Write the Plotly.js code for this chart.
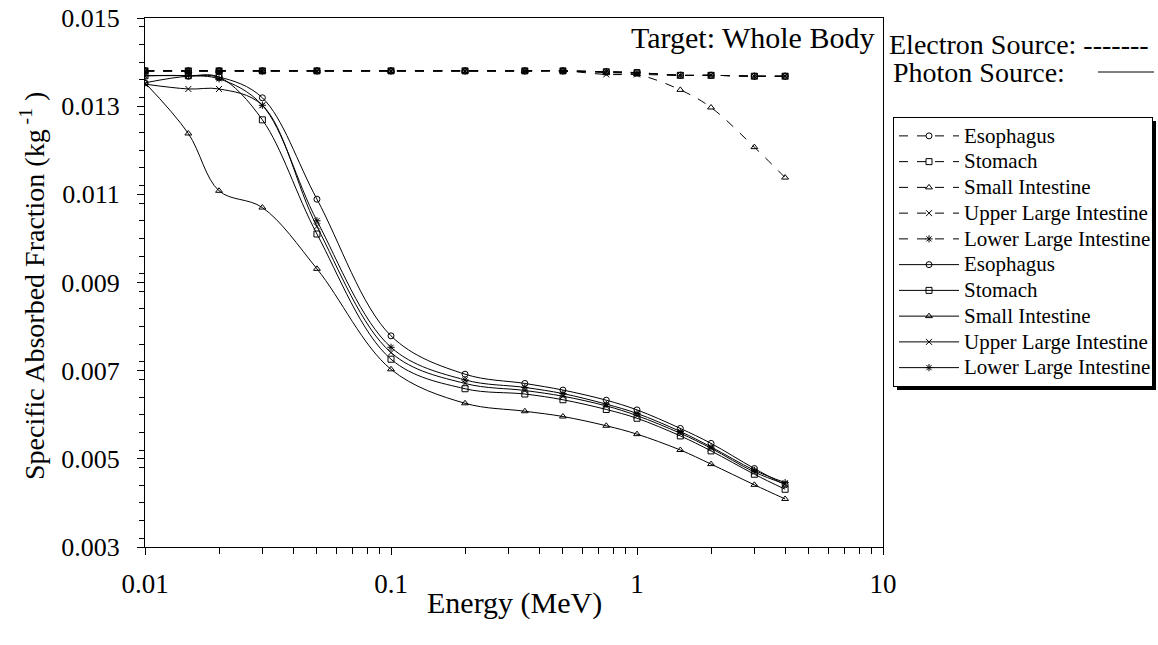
<!DOCTYPE html>
<html><head><meta charset="utf-8">
<script src="https://cdn.plot.ly/plotly-3.0.1.min.js"></script>
<style>html,body{margin:0;padding:0;background:#fff}#chart{width:1158px;height:645px}</style>
</head><body><div id="chart"></div>
<script>
const energy = [0.01,0.015,0.02,0.03,0.05,0.1,0.2,0.35,0.5,0.75,1,1.5,2,3,4];
const organs = ['Esophagus','Stomach','Small Intestine','Upper Large Intestine','Lower Large Intestine'];
// Electron source
const eEso = [0.0138,0.0138,0.0138,0.0138,0.0138,0.0138,0.0138,0.0138,0.0138,0.01378,0.01376,0.0137,0.0137,0.01368,0.01368];
const eSto = [0.0138,0.0138,0.0138,0.0138,0.0138,0.0138,0.0138,0.0138,0.0138,0.01378,0.01376,0.0137,0.0137,0.01368,0.01368];
const eSI  = [0.0138,0.0138,0.0138,0.0138,0.0138,0.0138,0.0138,0.0138,0.0138,0.01376,0.01372,0.01337,0.01297,0.01207,0.01138];
const eULI = [0.0138,0.0138,0.0138,0.0138,0.0138,0.0138,0.0138,0.0138,0.0138,0.01372,0.01372,0.0137,0.0137,0.01368,0.01368];
const eLLI = [0.0138,0.0138,0.0138,0.0138,0.0138,0.0138,0.0138,0.0138,0.0138,0.01378,0.01376,0.0137,0.0137,0.01368,0.01368];
// Photon source
const pEso = [0.01353,0.01368,0.01366,0.01319,0.01089,0.00779,0.00692,0.00671,0.00656,0.00633,0.00611,0.00569,0.00535,0.00478,0.00441];
const pSto = [0.01369,0.01369,0.01366,0.01269,0.0101,0.00726,0.00659,0.00647,0.00634,0.00612,0.00592,0.00552,0.00518,0.00465,0.00431];
const pSI  = [0.01353,0.01238,0.01108,0.0107,0.00931,0.00703,0.00626,0.00608,0.00596,0.00575,0.00556,0.0052,0.00488,0.00441,0.00409];
const pULI = [0.0135,0.01339,0.01339,0.01302,0.01027,0.00741,0.00671,0.00655,0.00642,0.0062,0.00598,0.00558,0.00524,0.0047,0.00443];
const pLLI = [0.01369,0.01369,0.01362,0.01302,0.0104,0.00753,0.00679,0.00662,0.00648,0.00624,0.00603,0.00562,0.00527,0.00474,0.00446];

const xTickVals = [0.01,0.1,1,10];
const xTickText = ['0.01','0.1','1','10'];
const xMinorVals = [0.02,0.03,0.04,0.05,0.06,0.07,0.08,0.09,0.2,0.3,0.4,0.5,0.6,0.7,0.8,0.9,2,3,4,5,6,7,8,9];

const symbols = ['circle-open','square-open','triangle-up-open','x-thin-open','asterisk-open'];
const FONT = 'Liberation Serif';

const electron = [eEso,eSto,eSI,eULI,eLLI];
const photon = [pEso,pSto,pSI,pULI,pLLI];
const traces = [];
electron.forEach((ys,i)=>traces.push({
  x: energy, y: ys, name: organs[i], type:'scatter', mode:'lines+markers',
  line:{color:'#000',width:1,dash:'dash',shape:'spline',smoothing:1},
  marker:{symbol:symbols[i],size:6,color:'#000',line:{color:'#000',width:1}}
}));
photon.forEach((ys,i)=>traces.push({
  x: energy, y: ys, name: organs[i], type:'scatter', mode:'lines+markers',
  line:{color:'#000',width:1,dash:'solid',shape:'spline',smoothing:1},
  marker:{symbol:symbols[i],size:6,color:'#000',line:{color:'#000',width:1}}
}));

const L=145,R=883,T=18,B=547;
const px=(v)=>(v-L)/(R-L), py=(v)=>(B-v)/(B-T);

const layout = {
  width:1158, height:645,
  margin:{l:L, r:1158-R, t:T, b:645-B},
  paper_bgcolor:'#fff', plot_bgcolor:'#fff',
  font:{family:FONT, color:'#000', size:20},
  showlegend:true,
  legend:{x:px(893), y:py(117), xanchor:'left', yanchor:'top',
    bordercolor:'#000', borderwidth:1, bgcolor:'#fff', itemwidth:60,
    font:{family:FONT,size:17.5,color:'#000'}, tracegroupgap:0},
  xaxis:{type:'log', range:[-2,1], tickmode:'array', tickvals:xTickVals, ticktext:xTickText,
    ticks:'outside', ticklen:7, tickcolor:'#000', showgrid:false, zeroline:false,
    showline:true, linecolor:'#000', linewidth:1, mirror:true,
    ticklabelstandoff:6,
    minor:{tickmode:'array', tickvals:xMinorVals, ticks:'outside', ticklen:6, tickcolor:'#000', showgrid:false},
    tickfont:{family:FONT,size:27,color:'#000'}},
  yaxis:{range:[0.003,0.015], dtick:0.002, tick0:0.003, tickformat:'.3f',
    ticks:'outside', ticklen:7, tickcolor:'#000', showgrid:false, zeroline:false,
    showline:true, linecolor:'#000', linewidth:1, mirror:true,
    ticklabelstandoff:12,
    minor:{dtick:0.0004, ticks:'outside', ticklen:5, tickcolor:'#000', showgrid:false},
    tickfont:{family:FONT,size:26,color:'#000'}},
  annotations:[
    {text:'Energy (MeV)', xref:'paper', yref:'paper', x:px(514), y:py(603), xanchor:'center', yanchor:'middle', showarrow:false, font:{family:FONT,size:30,color:'#000'}},
    {text:'Specific Absorbed Fraction (kg<sup> -1</sup> )', textangle:-90, xref:'paper', yref:'paper', x:px(32), y:py(286), xanchor:'center', yanchor:'middle', showarrow:false, font:{family:FONT,size:28,color:'#000'}},
    {text:'Target: Whole Body', xref:'paper', yref:'paper', x:px(876), y:py(37), xanchor:'right', yanchor:'middle', showarrow:false, font:{family:FONT,size:30,color:'#000'}},
    {text:'Electron Source: -------', xref:'paper', yref:'paper', x:px(887), y:py(44), xanchor:'left', yanchor:'middle', height:26, valign:'middle', showarrow:false, font:{family:FONT,size:28,color:'#000'}},
    {text:'Photon Source:', xref:'paper', yref:'paper', x:px(891), y:py(72), xanchor:'left', yanchor:'middle', height:26, valign:'middle', showarrow:false, font:{family:FONT,size:28,color:'#000'}}
  ],
  shapes:[
    {type:'line', xref:'paper', yref:'paper', x0:px(1098), x1:px(1154), y0:py(72), y1:py(72), line:{color:'#000',width:1}}
  ]
};

Plotly.newPlot('chart', traces, layout, {displayModeBar:false, staticPlot:true}).then(gd=>{
  // Legend: larger text at the compact row spacing, widen box, add drop shadow
  const leg = gd.querySelector('.legend');
  const bg = leg && leg.querySelector('.bg');
  if(bg){
    const texts = leg.querySelectorAll('.legendtext');
    texts.forEach(t=>{ t.style.fontSize='21px'; });
    const b0 = bg.getBoundingClientRect();
    let maxR = 0;
    texts.forEach(t=>{ const r=t.getBoundingClientRect(); maxR=Math.max(maxR, r.right); });
    const newW = Math.round(maxR + 2 - b0.left);
    bg.setAttribute('width', newW);
    const sb = leg.querySelector('.scrollbox');
    const cp = sb && sb.getAttribute('clip-path');
    if(cp){
      const id = cp.replace(/^url\(['"]?#/, '').replace(/['"]?\)$/, '');
      const cr = document.getElementById(id);
      if(cr){ const rr = cr.querySelector('rect'); if(rr) rr.setAttribute('width', newW + 10); }
    }
    const shadow = bg.cloneNode(false);
    shadow.removeAttribute('class');
    shadow.setAttribute('style', 'fill:#000;stroke:none');
    const tx = bg.getAttribute('x')||0, ty = bg.getAttribute('y')||0;
    shadow.setAttribute('x', (+tx)+3); shadow.setAttribute('y', (+ty)+3);
    bg.parentNode.insertBefore(shadow, bg);
  }
});
</script></body></html>
